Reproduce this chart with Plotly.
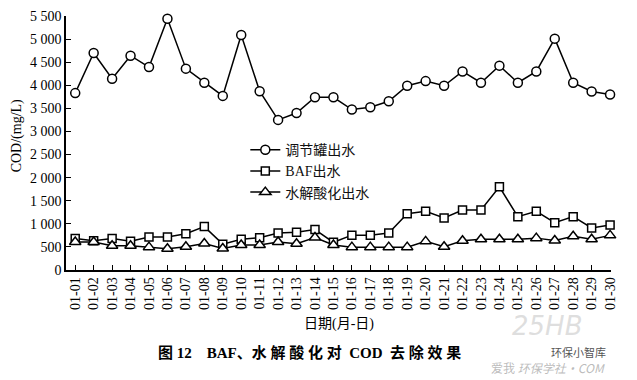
import plotly.graph_objects as go

dates = ["01-%02d" % d for d in range(1, 31)]

tank_out = [3830, 4700, 4140, 4640, 4395, 5440, 4360, 4055, 3770, 5090,
            3870, 3250, 3400, 3740, 3740, 3475, 3525, 3655, 3990, 4090,
            3990, 4300, 4055, 4425, 4055, 4300, 5010, 4055, 3865, 3800]
baf_out = [680, 635, 680, 625, 715, 715, 785, 940, 560, 665,
           700, 800, 820, 875, 600, 755, 755, 800, 1220, 1270,
           1125, 1300, 1300, 1800, 1155, 1270, 1025, 1155, 910, 975]
hydro_out = [605, 605, 525, 525, 495, 460, 505, 575, 465, 540,
             540, 605, 570, 705, 540, 495, 495, 495, 495, 620,
             505, 635, 665, 665, 665, 690, 640, 730, 665, 750]

series_names = ["调节罐出水", "BAF出水", "水解酸化出水"]
y_tickvals = [0, 500, 1000, 1500, 2000, 2500, 3000, 3500, 4000, 4500, 5000, 5500]
y_ticktext = ["0", "500", "1 000", "1 500", "2 000", "2 500", "3 000",
              "3 500", "4 000", "4 500", "5 000", "5 500"]

SERIF = "Liberation Serif, Noto Sans CJK SC, serif"

fig = go.Figure()
fig.add_trace(go.Scatter(
    x=dates, y=tank_out, name=series_names[0], mode="lines+markers",
    cliponaxis=False,
    line=dict(color="black", width=1.5),
    marker=dict(symbol="circle", size=9, color="white",
                line=dict(color="black", width=1.5))))
fig.add_trace(go.Scatter(
    x=dates, y=baf_out, name=series_names[1], mode="lines+markers",
    cliponaxis=False,
    line=dict(color="black", width=1.5),
    marker=dict(symbol="square", size=8, color="white",
                line=dict(color="black", width=1.5))))
fig.add_trace(go.Scatter(
    x=dates, y=hydro_out, name=series_names[2], mode="lines+markers",
    cliponaxis=False,
    line=dict(color="black", width=1.5),
    marker=dict(symbol="triangle-up", size=10, color="white",
                line=dict(color="black", width=1.5))))

# page body has an 8px default margin, so the figure is 8px smaller
fig.update_layout(
    width=629, height=372,
    margin=dict(l=58, r=26, t=8, b=110, pad=0),
    paper_bgcolor="white", plot_bgcolor="white",
    font=dict(family=SERIF, size=14, color="black"),
    showlegend=True,
    legend=dict(x=0.329, y=0.535, xanchor="left", yanchor="top",
                bgcolor="rgba(0,0,0,0)", borderwidth=0,
                font=dict(family=SERIF, size=14, color="#111"),
                itemwidth=30, tracegroupgap=0),
    xaxis=dict(type="category", range=[-0.5, 29.05],
               showline=True, linecolor="black", linewidth=1.5,
               showgrid=False, zeroline=False, automargin=False,
               ticks="inside", ticklen=5, tickwidth=1.2, tickcolor="black",
               tickangle=-90, tickfont=dict(family=SERIF, size=14)),
    yaxis=dict(range=[0, 5500], showline=True, linecolor="black", linewidth=1.5,
               showgrid=False, zeroline=False, automargin=False,
               tickvals=y_tickvals, ticktext=y_ticktext,
               ticks="inside", ticklen=5, tickwidth=1.2, tickcolor="black",
               tickfont=dict(family=SERIF, size=14)),
)

annotations = [
    dict(text="COD/(mg/L)", xref="paper", yref="paper", x=-0.09, y=0.53,
         textangle=-90, showarrow=False, font=dict(family=SERIF, size=14),
         xanchor="center", yanchor="middle"),
    dict(text="日期(月-日)", xref="paper", yref="paper", x=0.5, y=-0.212,
         showarrow=False, font=dict(family=SERIF, size=14),
         xanchor="center", yanchor="middle"),
    dict(text="<b>图 12    BAF、水 解 酸 化 对  COD  去 除 效 果</b>", xref="paper", yref="paper",
         x=0.447, y=-0.326, showarrow=False, font=dict(family=SERIF, size=15),
         xanchor="center", yanchor="middle"),
    dict(text="<i>25HB</i>", xref="paper", yref="paper", x=0.883, y=-0.22,
         showarrow=False, font=dict(family="DejaVu Sans", size=26, color="rgba(200,200,200,0.6)"),
         xanchor="center", yanchor="middle"),
    dict(text="环保小智库", xref="paper", yref="paper", x=0.94, y=-0.322,
         showarrow=False, font=dict(family="Noto Sans CJK SC", size=11, color="#555"),
         xanchor="center", yanchor="middle"),
    dict(text="爱我 <i>环保学社·COM</i>", xref="paper", yref="paper", x=0.885, y=-0.385,
         showarrow=False, font=dict(family="Noto Sans CJK SC", size=12, color="rgba(170,170,170,0.8)"),
         xanchor="center", yanchor="middle"),
]
fig.update_layout(annotations=annotations)

fig.write_html("out.html")
